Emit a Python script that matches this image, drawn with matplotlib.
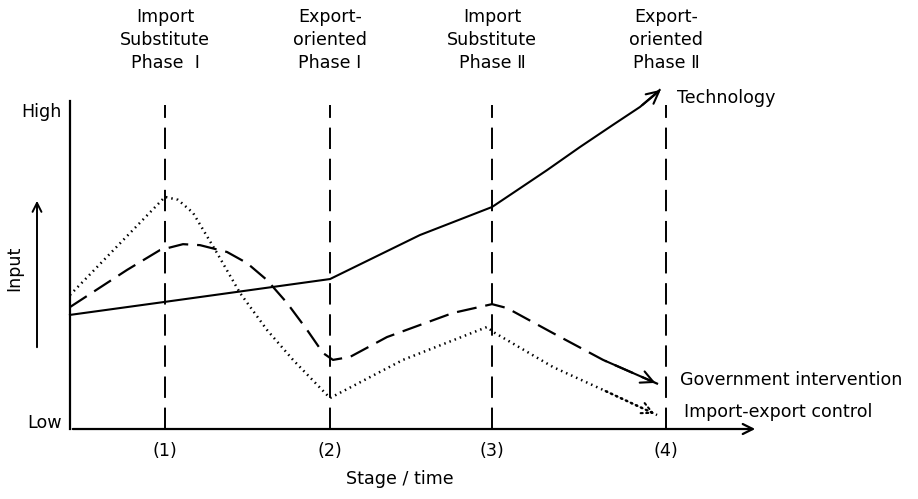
import matplotlib
matplotlib.use("Agg")
import matplotlib.pyplot as plt

# stage positions along the time axis (stage units)
stage_x = [1.0, 2.0, 2.982, 4.036]
stage_labels = ["(1)", "(2)", "(3)", "(4)"]
phase_labels = ["Import\nSubstitute\nPhase  \u2160", "Export-\noriented\nPhase \u2160",
                "Import\nSubstitute\nPhase \u2161", "Export-\noriented\nPhase \u2161"]

# curves (x in stage units, y = input level, 0 = Low, 100 = High)
tech_x = [0.424, 1.0, 2.0, 2.545, 2.982, 3.109, 3.315, 3.515, 3.715, 3.879, 4.018]
tech_y = [35.0, 39.0, 46.0, 59.5, 68.1, 72.4, 79.4, 86.5, 93.3, 98.8, 104.6]

gov_x = [0.424, 0.770, 0.970, 1.109, 1.212, 1.376, 1.497, 1.618, 1.739, 1.861,
         1.958, 2.018, 2.121, 2.345, 2.745, 2.982, 3.073, 3.352, 3.655, 3.988]
gov_y = [37.4, 48.8, 54.9, 56.7, 56.4, 54.3, 50.9, 45.7, 38.7, 30.4,
         23.3, 21.2, 22.1, 28.2, 35.6, 38.3, 37.1, 29.4, 21.2, 13.8]

ctrl_x = [0.424, 1.0, 1.079, 1.170, 1.315, 1.455, 1.618, 1.776, 2.0, 2.442,
          2.952, 2.988, 3.352, 3.655, 3.982]
ctrl_y = [41.1, 71.2, 70.3, 66.3, 54.0, 41.7, 30.4, 21.2, 9.5, 21.2,
          31.3, 29.8, 19.0, 12.0, 4.3]

fig = plt.figure(figsize=(9.18, 4.99), dpi=100)
ax = fig.add_axes([0, 0, 1, 1])
ax.set_xlim(0, 918 / 165)
ax.set_ylim(-21.47, 131.6)
ax.axis("off")

fs = 12.6
x0 = 0.424

# axes
ax.plot([x0, x0], [0, 100.5], color="black", lw=1.6)
ax.annotate("", xy=(4.594, 0), xytext=(x0, 0),
            arrowprops=dict(arrowstyle="->", lw=1.6, color="black", mutation_scale=18))

# stage lines
for sx in stage_x:
    ax.plot([sx, sx], [0, 99.5], color="black", lw=1.4, dashes=(11, 5))

# curves
ax.plot(tech_x[:-1] + [tech_x[-1] - 0.02], tech_y[:-1] + [tech_y[-1] - 0.6],
        color="black", lw=1.5, solid_joinstyle="round")
ax.annotate("", xy=(tech_x[-1], tech_y[-1]), xytext=(tech_x[-2], tech_y[-2]),
            arrowprops=dict(arrowstyle="->", lw=1.5, color="black", mutation_scale=22))

ax.plot(gov_x, gov_y, color="black", lw=1.6, dashes=(9, 4))
ax.annotate("", xy=(gov_x[-1], gov_y[-1]), xytext=(gov_x[-2], gov_y[-2]),
            arrowprops=dict(arrowstyle="->", lw=1.5, color="black", mutation_scale=22))

ax.plot(ctrl_x, ctrl_y, color="black", lw=1.8, linestyle=(0, (0.6, 1.6)))
ax.annotate("", xy=(ctrl_x[-1], ctrl_y[-1]), xytext=(ctrl_x[-2], ctrl_y[-2]),
            arrowprops=dict(arrowstyle="->", lw=1.5, color="black", linestyle=":",
                            mutation_scale=20))

# input arrow on the left
ax.annotate("", xy=(37 / 165, (429 - 198) / 3.26), xytext=(37 / 165, (429 - 350) / 3.26),
            arrowprops=dict(arrowstyle="->", lw=1.4, color="black", mutation_scale=16))
ax.text(14 / 165, (429 - 268) / 3.26, "Input", rotation=90, ha="center", va="center", fontsize=fs)
ax.text(62 / 165, (429 - 112) / 3.26, "High", ha="right", va="center", fontsize=fs)
ax.text(62 / 165, (429 - 423) / 3.26, "Low", ha="right", va="center", fontsize=fs)

# labels
for sx, lab, ph in zip(stage_x, stage_labels, phase_labels):
    ax.text(sx, (429 - 451) / 3.26, lab, ha="center", va="center", fontsize=fs)
    ax.text(sx, (429 - 40) / 3.26, ph, ha="center", va="center", fontsize=fs, linespacing=1.35)

ax.text(400 / 165, (429 - 479) / 3.26, "Stage / time", ha="center", va="center", fontsize=fs)
ax.text(677 / 165, (429 - 98) / 3.26, "Technology", ha="left", va="center", fontsize=fs)
ax.text(680 / 165, (429 - 380) / 3.26, "Government intervention", ha="left", va="center", fontsize=fs)
ax.text(684 / 165, (429 - 412) / 3.26, "Import-export control", ha="left", va="center", fontsize=fs)

fig.savefig("out.png", dpi=100, facecolor="white")
